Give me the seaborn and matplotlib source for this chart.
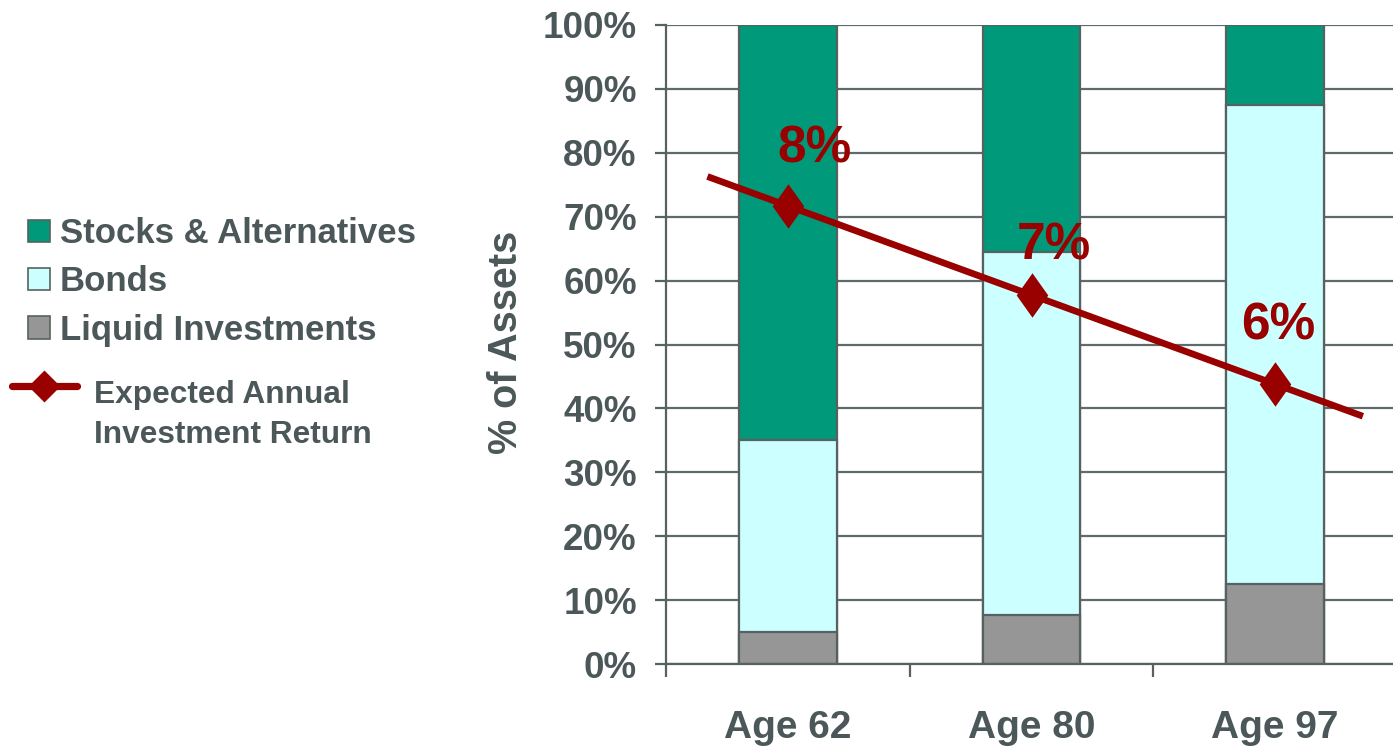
import numpy as np
import pandas as pd
import matplotlib
matplotlib.use("Agg")
import matplotlib.pyplot as plt
from matplotlib.lines import Line2D
from matplotlib.patches import Patch
from matplotlib.legend_handler import HandlerLine2D
from matplotlib.transforms import Affine2D
import seaborn as sns

# ---- data -------------------------------------------------------------
ages = ["Age 62", "Age 80", "Age 97"]
liquid = [5.0, 7.7, 12.5]
bonds = [30.0, 56.7, 75.0]
stocks = [65.0, 35.6, 12.5]
returns = [8, 7, 6]          # expected annual investment return, %
y_ticks = [0, 10, 20, 30, 40, 50, 60, 70, 80, 90, 100]

# ---- style ------------------------------------------------------------
sns.set_style("white")
plt.rcParams["font.family"] = ["Liberation Sans", "DejaVu Sans"]
plt.rcParams["font.weight"] = "bold"

GREEN = "#00997A"
CYAN = "#CCFFFF"
GREY = "#969696"
EDGE = "#56625F"
RED = "#990000"
TEXT = "#4B5758"

df = pd.DataFrame({"age": ages, "liquid": liquid, "bonds": bonds, "stocks": stocks})
df["lb"] = df["liquid"] + df["bonds"]
df["total"] = df["lb"] + df["stocks"]

fig = plt.figure(figsize=(13.93, 7.48), dpi=100)
W, H = 1393, 748
ax = fig.add_axes([666 / W, 1 - 664 / H, 731 / W, 639 / H])

# stacked columns: draw cumulative heights from the top layer down
bar_kw = dict(width=0.4, edgecolor=EDGE, linewidth=1.6, saturation=1, ax=ax, zorder=2)
sns.barplot(data=df, x="age", y="total", color=GREEN, **bar_kw)
sns.barplot(data=df, x="age", y="lb", color=CYAN, **bar_kw)
sns.barplot(data=df, x="age", y="liquid", color=GREY, **bar_kw)

ax.set_xlim(-0.5, 2.5)
ax.set_ylim(0, 100)
ax.set_yticks(y_ticks)
ax.set_yticklabels([f"{t}%" for t in y_ticks])
ax.yaxis.grid(True, color="#5E6A6B", linewidth=1.6)
ax.set_axisbelow(True)
for s in ["top", "right"]:
    ax.spines[s].set_visible(False)
for s in ["left", "bottom"]:
    ax.spines[s].set_color(EDGE)
    ax.spines[s].set_linewidth(1.6)

ax.tick_params(axis="y", which="major", direction="out", length=8, width=1.6,
               color=EDGE, pad=13, labelsize=26.5, labelcolor=TEXT, left=True)
ax.tick_params(axis="x", which="major", length=0, pad=33, labelsize=28,
               labelcolor=TEXT)
ax.set_xticks([-0.5, 0.5, 1.5, 2.5], minor=True)
ax.tick_params(axis="x", which="minor", direction="out", length=9, width=1.6,
               color=EDGE, bottom=True)
for lab in ax.get_xticklabels() + ax.get_yticklabels():
    lab.set_fontweight("bold")

ax.set_xlabel("")
ax.set_ylabel("% of Assets", fontsize=28.5, fontweight="bold", color=TEXT)
ax.yaxis.set_label_coords(-0.193, 0.504)

# ---- expected return on a hidden secondary scale --------------------------
ax2 = ax.twinx()
ax2.set_ylim(2.86, 10.03)
ax2.axis("off")

x_pos = np.arange(len(returns))
slope, intercept = np.polyfit(x_pos, returns, 1)
x_trend = np.array([-0.33, 2.36])
ax2.plot(x_trend, slope * x_trend + intercept, color=RED, linewidth=4.8,
         solid_capstyle="butt", zorder=3)

tall_diamond = [(0, 1), (0.71, 0), (0, -1), (-0.71, 0), (0, 1)]
ax2.plot(x_pos, returns, linestyle="none", marker=tall_diamond, markersize=32,
         color=RED, markeredgewidth=0, zorder=4)
label_offsets = [(19, 41), (16, 35), (2, 42)]
for x, r, off in zip(x_pos, returns, label_offsets):
    ax2.annotate(f"{r}%", (x, r), xytext=off, textcoords="offset points",
                 ha="center", va="center", fontsize=37, fontweight="bold",
                 color=RED, zorder=5)

# ---- legends ----------------------------------------------------------------
bar_handles = [Patch(facecolor=GREEN, edgecolor=EDGE, linewidth=1.2),
               Patch(facecolor=CYAN, edgecolor=EDGE, linewidth=1.2),
               Patch(facecolor=GREY, edgecolor=EDGE, linewidth=1.2)]
fig.legend(bar_handles, ["Stocks & Alternatives", "Bonds", "Liquid Investments"],
           loc="upper left", bbox_to_anchor=(28 / W, 1 - 217 / H),
           frameon=False, borderpad=0, borderaxespad=0,
           handlelength=0.62, handleheight=0.62,
           handletextpad=0.3, labelspacing=0.44, labelcolor=TEXT,
           prop={"weight": "bold", "size": 25})


class RaisedLineHandler(HandlerLine2D):
    """Line handle drawn level with the first line of a two-line label."""

    def __init__(self, lift, **kw):
        super().__init__(**kw)
        self.lift = lift

    def create_artists(self, legend, orig_handle, xdescent, ydescent,
                       width, height, fontsize, trans):
        trans = Affine2D().translate(0, self.lift) + trans
        return super().create_artists(legend, orig_handle, xdescent, ydescent,
                                      width, height, fontsize, trans)


square_diamond = [(0, 1), (1, 0), (0, -1), (-1, 0), (0, 1)]
line_handle = Line2D([], [], color=RED, linewidth=5.2, marker=square_diamond,
                     markersize=23, markeredgewidth=0)
leg2 = fig.legend([line_handle], ["Expected Annual\nInvestment Return"],
                  loc="upper left", bbox_to_anchor=(12 / W, 1 - 380 / H),
                  frameon=False, borderpad=0, borderaxespad=0,
                  handlelength=2.05, handletextpad=0.55, labelcolor=TEXT,
                  handler_map={Line2D: RaisedLineHandler(lift=21)},
                  prop={"weight": "bold", "size": 22.8})
leg2.get_texts()[0].set_linespacing(1.45)

fig.savefig("out.png", dpi=100)
